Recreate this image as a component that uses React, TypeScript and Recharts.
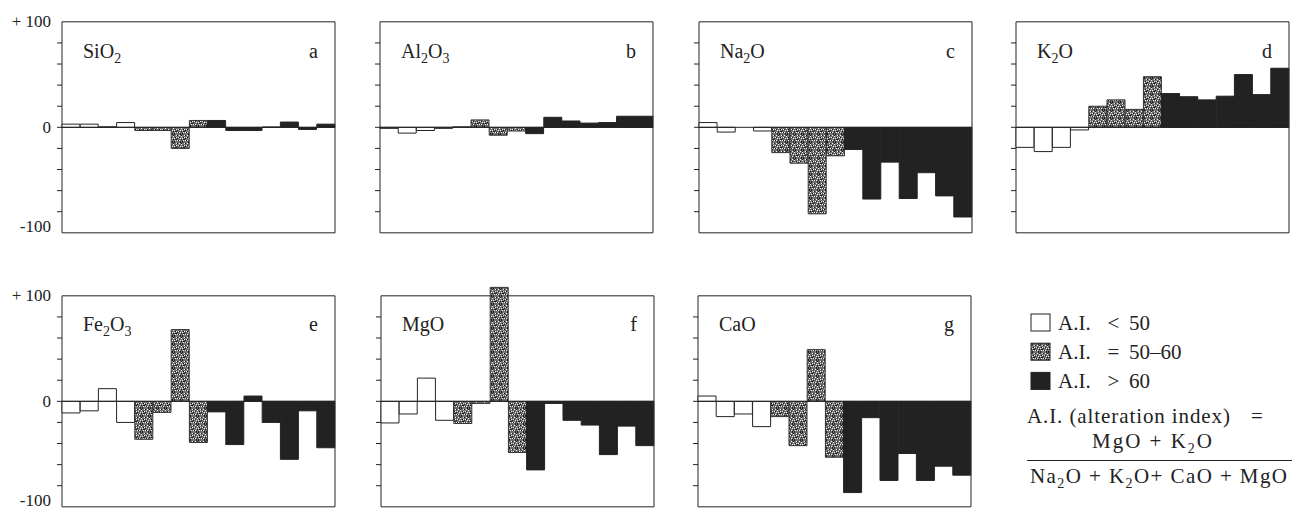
import { BarChart, Bar, Cell, XAxis, YAxis, ReferenceArea, ReferenceLine } from 'recharts';

type AIClass = 'low' | 'mid' | 'high';

// alteration-index class of the 15 samples (same samples in every panel)
const SAMPLE_CLASS: AIClass[] = [
  'low', 'low', 'low', 'low',
  'mid', 'mid', 'mid', 'mid',
  'high', 'high', 'high', 'high', 'high', 'high', 'high'
];

// relative gain / loss (%) per sample
const SIO2 = [3, 3, 0.5, 4.5, -3, -3, -20, 6.5, 6.5, -3, -3, 0.3, 5, -2, 3];
const AL2O3 = [-1, -5.5, -3, -1, 0.5, 7, -7.5, -3.5, -6, 9.5, 6, 4, 4.5, 10.5, 10.5];
const NA2O = [4.5, -4.5, 0, -3.5, -24, -34, -82, -27, -21, -68, -33, -67.5, -43, -65, -85];
const K2O = [-19, -23, -19, -2.5, 20, 26, 17, 48, 32, 29, 26, 29.5, 50, 31, 56];
const FE2O3 = [-11, -9, 12, -20, -36, -10.5, 68, -39, -10, -41, 5, -20, -55, -9, -44];
const MGO = [-20.5, -12, 22, -18, -21, -2, 108, -48.5, -65, -2, -18, -22.5, -50.5, -23.5, -42];
const CAO = [5, -14.5, -12, -24, -14.5, -42, 49, -53, -86.5, -15.5, -75, -49.5, -75, -61.5, -70];

const Y_TICKS = [-100, -80, -60, -40, -20, 0, 20, 40, 60, 80, 100];
const INNER_TICKS = [-80, -60, -40, -20, 0, 20, 40, 60, 80];
const Y_LABELS: Record<string, string> = { '100': '+ 100', '0': '0', '-100': '-100' };

const LEGEND_ROWS = [
  { cls: 'low' as AIClass, sym: '<', range: '50' },
  { cls: 'mid' as AIClass, sym: '=', range: '50–60' },
  { cls: 'high' as AIClass, sym: '>', range: '60' }
];

const PANELS = [
  { id: 'a', name: 'SiO_2', values: SIO2, left: 62, top: 22, labels: true },
  { id: 'b', name: 'Al_2O_3', values: AL2O3, left: 380, top: 22, labels: false },
  { id: 'c', name: 'Na_2O', values: NA2O, left: 699, top: 22, labels: false },
  { id: 'd', name: 'K_2O', values: K2O, left: 1016, top: 22, labels: false },
  { id: 'e', name: 'Fe_2O_3', values: FE2O3, left: 62, top: 295.5, labels: true },
  { id: 'f', name: 'MgO', values: MGO, left: 381, top: 295.5, labels: false },
  { id: 'g', name: 'CaO', values: CAO, left: 698, top: 295.5, labels: false }
];

const FONT = "'Liberation Serif', 'Times New Roman', serif";
const INK = '#222';
const LEFT_W = 56;
const RIGHT_W = 10;
const BOX_W = 273;
const BOX_H = 211;
const Y_MAX = 115;
const PAD_B = 14;
const TICK_SIZE = 5;
const TICK_MARGIN = 6;

// grain of the stippled fill
const STIP_DARK = [[0, 0], [3, 1], [6, 0], [1, 3], [5, 3], [2, 5], [7, 5], [4, 6], [0, 7], [6, 7], [3, 4], [7, 1], [1, 5]];
const STIP_LIGHT = [[2, 1], [7, 2], [4, 3], [0, 4], [6, 4], [3, 6], [1, 6], [5, 1], [5, 6], [2, 3]];

function Stipple({ id }: { id: string }) {
  return (
    <pattern id={id} width={8} height={8} patternUnits="userSpaceOnUse">
      <rect width={8} height={8} fill="#707070" />
      {STIP_DARK.map(([x, y], i) => <rect key={'d' + i} x={x} y={y} width={1} height={1} fill="#1a1a1a" />)}
      {STIP_LIGHT.map(([x, y], i) => <rect key={'l' + i} x={x} y={y} width={1} height={1} fill="#f4f4f4" />)}
    </pattern>
  );
}

const fillFor = (cls: AIClass, patId: string) =>
  cls === 'low' ? '#ffffff' : cls === 'mid' ? `url(#${patId})` : INK;

// chemical formula with subscripts, e.g. "Al_2O_3"
function Chem({ s, size }: { s: string; size: number }) {
  const sub = Math.round(size * 0.68);
  const drop = Math.round(size * 0.26);
  let shifted = false;
  const parts = s.split(/(_\d)/).filter(Boolean).map((p, i) => {
    if (p.startsWith('_')) {
      shifted = true;
      return <tspan key={i} dy={drop} fontSize={sub}>{p.slice(1)}</tspan>;
    }
    const dy = shifted ? -drop : 0;
    shifted = false;
    return <tspan key={i} dy={dy}>{p}</tspan>;
  });
  return <>{parts}</>;
}

const makeLeftTick = (showLabels: boolean) => (props: any) => {
  const { x, y, payload } = props;
  const v = payload.value;
  const label = Y_LABELS[String(v)];
  return (
    <g>
      {Math.abs(v) < 100 && (
        <line x1={x + TICK_MARGIN} x2={x + TICK_MARGIN + TICK_SIZE} y1={y} y2={y} stroke={INK} />
      )}
      {showLabels && label && (
        <text
          x={x}
          y={v === -100 ? y - 6 : y}
          textAnchor="end"
          dominantBaseline="central"
          fontFamily={FONT}
          fontSize={17}
          fill={INK}
        >
          {label}
        </text>
      )}
    </g>
  );
};

const emptyTick = () => <g />;

function Panel({ p }: { p: typeof PANELS[number] }) {
  const patId = `stip-${p.id}`;
  const pxPerUnit = BOX_H / 200;
  const plotH = (Y_MAX + 100) * pxPerUnit;
  const data = p.values.map((v, i) => ({ i, v, cls: SAMPLE_CLASS[i] }));
  return (
    <div style={{ position: 'absolute', left: p.left - LEFT_W, top: p.top - (Y_MAX - 100) * pxPerUnit }}>
      <BarChart
        width={LEFT_W + BOX_W + RIGHT_W}
        height={plotH + PAD_B}
        data={data}
        margin={{ top: 0, right: 0, left: 0, bottom: PAD_B }}
        barCategoryGap={0}
        style={{ overflow: 'visible' }}
      >
        <defs>
          <Stipple id={patId} />
        </defs>
        <XAxis dataKey="i" hide />
        <YAxis
          yAxisId="l"
          width={LEFT_W}
          domain={[-100, Y_MAX]}
          ticks={Y_TICKS}
          interval={0}
          axisLine={false}
          tickLine={false}
          tickSize={TICK_SIZE}
          tickMargin={TICK_MARGIN}
          tick={makeLeftTick(p.labels)}
        />
        <YAxis
          yAxisId="r"
          orientation="right"
          width={RIGHT_W}
          domain={[-100, Y_MAX]}
          ticks={INNER_TICKS}
          interval={0}
          axisLine={false}
          tickSize={TICK_SIZE}
          tickLine={{ stroke: INK }}
          tick={emptyTick}
        />
        <ReferenceArea yAxisId="l" y1={-100} y2={100} fill="none" stroke={INK} strokeWidth={1} />
        <Bar yAxisId="l" dataKey="v" isAnimationActive={false} strokeWidth={1}>
          {data.map((d) => (
            <Cell key={d.i} fill={fillFor(d.cls, patId)} stroke={d.cls === 'mid' ? '#333' : INK} />
          ))}
        </Bar>
        <ReferenceLine yAxisId="l" y={0} stroke={INK} strokeWidth={1} />
      </BarChart>
    </div>
  );
}

export default function App() {
  return (
    <div style={{ position: 'absolute', left: 0, top: 0, width: 1293, height: 510, background: '#fff', overflow: 'hidden' }}>
      {PANELS.map((p) => <Panel key={p.id} p={p} />)}

      <svg width={1293} height={510} style={{ position: 'absolute', left: 0, top: 0, pointerEvents: 'none' }}>
        <defs>
          <Stipple id="stip-legend" />
        </defs>
        {PANELS.map((p) => (
          <g key={p.id} fontFamily={FONT} fontSize={20} fill={INK}>
            <text x={p.left + 21} y={p.top + 35.5}>
              <Chem s={p.name} size={20} />
            </text>
            <text x={p.left + BOX_W - 17} y={p.top + 35.5} textAnchor="end">{p.id}</text>
          </g>
        ))}

        <g fontFamily={FONT} fontSize={21} fill={INK}>
          {LEGEND_ROWS.map((r, i) => {
            const base = 330 + i * 29.2;
            return (
              <g key={r.cls}>
                <rect
                  x={1031}
                  y={base - 16}
                  width={19}
                  height={17}
                  fill={fillFor(r.cls, 'stip-legend')}
                  stroke={INK}
                  strokeWidth={1}
                />
                <text x={1058} y={base}>A.I.</text>
                <text x={1113.5} y={base} textAnchor="middle">{r.sym}</text>
                <text x={1129} y={base}>{r.range}</text>
              </g>
            );
          })}
          <text x={1027} y={423.3} textLength={203} lengthAdjust="spacing">A.I.  (alteration index)</text>
          <text x={1257} y={423.3} textAnchor="middle">=</text>
          <text x={1092} y={448.3} textLength={120} lengthAdjust="spacing">
            <Chem s="MgO + K_2O" size={21} />
          </text>
          <line x1={1027} x2={1292} y1={460.5} y2={460.5} stroke={INK} strokeWidth={1.2} />
          <text x={1030} y={483.3} textLength={257} lengthAdjust="spacing">
            <Chem s="Na_2O + K_2O+ CaO + MgO" size={21} />
          </text>
        </g>
      </svg>
    </div>
  );
}
